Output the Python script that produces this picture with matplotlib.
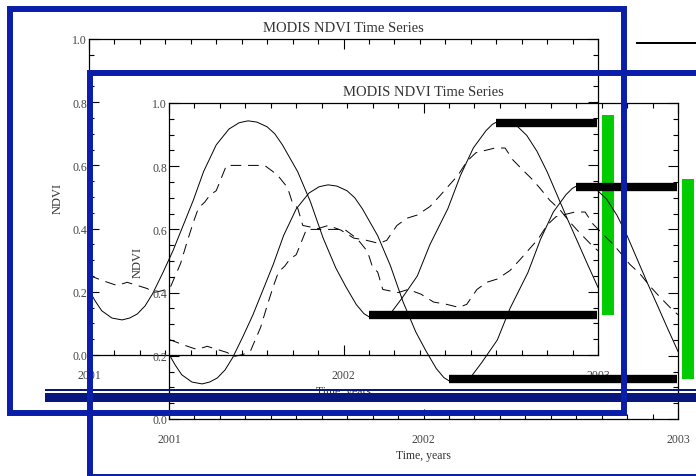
import matplotlib
matplotlib.use("Agg")
import matplotlib.pyplot as plt
from matplotlib.patches import Rectangle
from matplotlib.ticker import MultipleLocator, FormatStrFormatter

W, H = 696, 477

# NDVI curves (fractional years)
years_solid = [2001.00, 2001.025, 2001.05, 2001.09, 2001.13, 2001.16, 2001.19,
               2001.22, 2001.25, 2001.29, 2001.33, 2001.37, 2001.41, 2001.45,
               2001.50, 2001.55, 2001.59, 2001.625, 2001.66, 2001.70, 2001.73,
               2001.76, 2001.82, 2001.87, 2001.92, 2001.97, 2002.01, 2002.05,
               2002.08, 2002.10, 2002.12, 2002.14, 2002.17, 2002.19, 2002.23,
               2002.29, 2002.34, 2002.41, 2002.46, 2002.51, 2002.56, 2002.585,
               2002.61, 2002.645, 2002.68, 2002.72, 2002.76, 2002.80, 2002.84,
               2002.88, 2002.92, 2002.96, 2003.00]
ndvi_solid = [0.205, 0.170, 0.140, 0.117, 0.111, 0.117, 0.130,
              0.155, 0.194, 0.260, 0.330, 0.410, 0.490, 0.580,
              0.665, 0.715, 0.735, 0.741, 0.737, 0.722, 0.700,
              0.665, 0.580, 0.485, 0.370, 0.275, 0.215, 0.160,
              0.131, 0.121, 0.117, 0.118, 0.127, 0.137, 0.180,
              0.250, 0.350, 0.463, 0.569, 0.655, 0.710, 0.730,
              0.741, 0.737, 0.726, 0.695, 0.645, 0.580, 0.505,
              0.430, 0.358, 0.285, 0.214]

years_dashed = [2001.00, 2001.055, 2001.11, 2001.15, 2001.19, 2001.23, 2001.25,
                2001.29, 2001.32, 2001.36, 2001.385, 2001.41, 2001.43, 2001.455,
                2001.475, 2001.50, 2001.52, 2001.54, 2001.69, 2001.74, 2001.78,
                2001.80, 2001.82, 2001.84, 2001.90, 2001.94, 2001.99, 2002.04,
                2002.09, 2002.14, 2002.17, 2002.21, 2002.25, 2002.29, 2002.34,
                2002.38, 2002.45, 2002.485, 2002.52, 2002.595, 2002.635, 2002.666,
                2002.705, 2002.745, 2002.78, 2002.81, 2002.85, 2002.89, 2002.93,
                2002.976, 2003.00]
ndvi_dashed = [0.252, 0.235, 0.220, 0.230, 0.220, 0.210, 0.197,
               0.204, 0.215, 0.290, 0.357, 0.420, 0.465, 0.484,
               0.506, 0.520, 0.560, 0.600, 0.600, 0.570, 0.530,
               0.480, 0.465, 0.410, 0.400, 0.410, 0.395, 0.370,
               0.363, 0.353, 0.363, 0.410, 0.433, 0.443, 0.470,
               0.505, 0.569, 0.613, 0.640, 0.655, 0.655, 0.617,
               0.585, 0.553, 0.520, 0.490, 0.460, 0.420, 0.385,
               0.347, 0.330]

# thick markers: level of the last peak and of the trough before it
peak_start, peak_level = 2002.60, 0.735
trough_start, trough_level = 2002.10, 0.127
marker_end = 2002.995
# green bar: trough-to-peak range, just right of the plot box
range_x, range_w = 2003.039, 0.047
range_low, range_high = 0.127, 0.759

TITLE = "MODIS NDVI Time Series"
XLABEL = "Time, years"
YLABEL = "NDVI"
xticks = [2001, 2002, 2003]
yticks = [0.0, 0.2, 0.4, 0.6, 0.8, 1.0]

BLUE = "#0a1eaa"
NAVY = "#08177e"
GREEN = "#00cc00"
TEXT = "#333333"

plt.rcParams["font.family"] = ["Liberation Serif", "DejaVu Serif"]


def px_rect(fig, x0, y0, x1, y1, **kw):
    # rectangle given in picture pixels (origin top-left)
    return Rectangle((x0 / W, 1 - y1 / H), (x1 - x0) / W, (y1 - y0) / H,
                     transform=fig.transFigure, **kw)


def draw_panel(fig, dx, dy):
    ax = fig.add_axes([(89 + dx) / W, 1 - (356 + dy) / H, 509 / W, 316 / H])
    ax.patch.set_alpha(0)

    ax.plot(years_solid, ndvi_solid, color="black", lw=0.7)
    ax.plot(years_dashed, ndvi_dashed, color="black", lw=0.7, dashes=(11, 7))

    ax.plot([peak_start, marker_end], [peak_level, peak_level], color="black",
            lw=6, solid_capstyle="butt", clip_on=False, zorder=3)
    ax.plot([trough_start, marker_end], [trough_level, trough_level], color="black",
            lw=6, solid_capstyle="butt", clip_on=False, zorder=3)
    ax.bar(range_x, range_high - range_low, width=range_w, bottom=range_low,
           color=GREEN, clip_on=False, zorder=4)

    ax.set_xlim(2001, 2003)
    ax.set_ylim(0, 1)
    ax.set_xticks(xticks)
    ax.set_yticks(yticks)
    ax.xaxis.set_minor_locator(MultipleLocator(0.1))
    ax.yaxis.set_minor_locator(MultipleLocator(0.05))
    ax.xaxis.set_major_formatter(FormatStrFormatter("%d"))
    ax.yaxis.set_major_formatter(FormatStrFormatter("%.1f"))

    ax.tick_params(which="both", direction="in", top=True, right=True,
                   labelsize=8.5, labelcolor="#444444", width=0.8)
    ax.tick_params(which="major", length=7)
    ax.tick_params(which="minor", length=3.5)
    ax.tick_params(axis="x", pad=10)
    ax.tick_params(axis="y", pad=1.5)
    for sp in ax.spines.values():
        sp.set_linewidth(0.9)

    ax.set_title(TITLE, fontsize=10.5, color=TEXT, pad=6)
    ax.set_xlabel(XLABEL, fontsize=8.5, color=TEXT, labelpad=3)
    ax.set_ylabel(YLABEL, fontsize=9, color=TEXT, labelpad=6)

    # slide frame around the chart
    fig.add_artist(px_rect(fig, 10 + dx, 10 + dy, 624 + dx, 414 + dy, fill=False,
                           ec=BLUE, lw=4.3, joinstyle="miter", zorder=6))
    return ax


fig = plt.figure(figsize=(W / 100, H / 100), dpi=100)

draw_panel(fig, 0, 0)
draw_panel(fig, 80, 64)

# stray slide lines
fig.add_artist(px_rect(fig, 45, 389.5, 696, 391.5, color=NAVY, lw=0, zorder=5))
fig.add_artist(px_rect(fig, 45, 394, 696, 403, color=NAVY, lw=0, zorder=5))
fig.add_artist(px_rect(fig, 636, 43, 696, 45, color="black", lw=0, zorder=5))

fig.savefig("out.png", dpi=100)
